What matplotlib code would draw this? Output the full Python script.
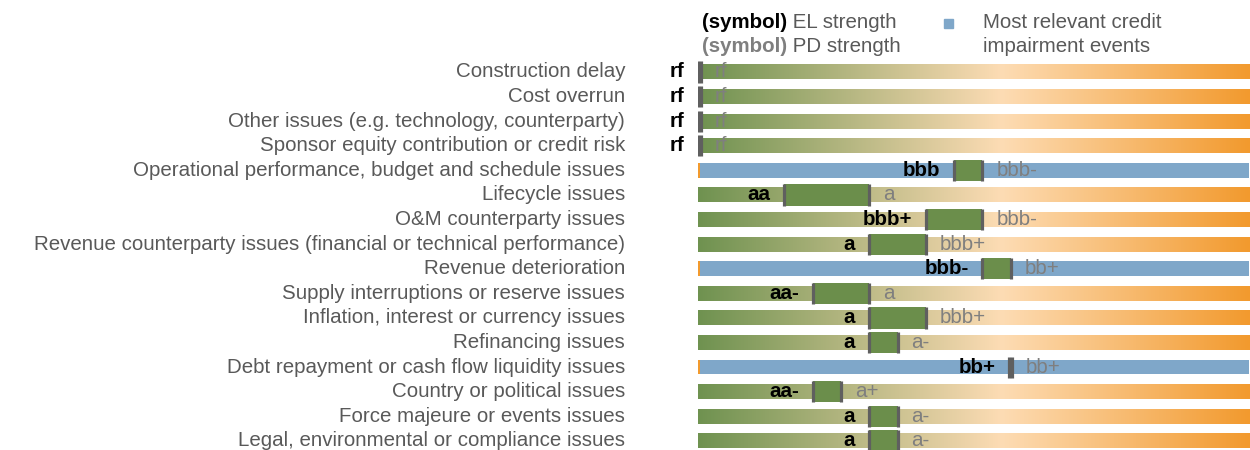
import matplotlib.pyplot as plt
import numpy as np
from matplotlib.colors import LinearSegmentedColormap

plt.rcParams['font.family'] = ['Liberation Sans', 'DejaVu Sans']

# rating scale, best (left) to worst (right)
scale = ['rf', 'aaa', 'aa+', 'aa', 'aa-', 'a+', 'a', 'a-', 'bbb+', 'bbb', 'bbb-',
         'bb+', 'bb', 'bb-', 'b+', 'b', 'b-', 'ccc+', 'ccc', 'ccc-']

categories = ['Construction delay',
              'Cost overrun',
              'Other issues (e.g. technology, counterparty)',
              'Sponsor equity contribution or credit risk',
              'Operational performance, budget and schedule issues',
              'Lifecycle issues',
              'O&M counterparty issues',
              'Revenue counterparty issues (financial or technical performance)',
              'Revenue deterioration',
              'Supply interruptions or reserve issues',
              'Inflation, interest or currency issues',
              'Refinancing issues',
              'Debt repayment or cash flow liquidity issues',
              'Country or political issues',
              'Force majeure or events issues',
              'Legal, environmental or compliance issues']
el_strength = ['rf', 'rf', 'rf', 'rf', 'bbb', 'aa', 'bbb+', 'a', 'bbb-', 'aa-',
               'a', 'a', 'bb+', 'aa-', 'a', 'a']
pd_strength = ['rf', 'rf', 'rf', 'rf', 'bbb-', 'a', 'bbb-', 'bbb+', 'bb+', 'a',
               'bbb+', 'a-', 'bb+', 'a+', 'a-', 'a-']
most_relevant = [0, 0, 0, 0, 1, 0, 0, 0, 1, 0, 0, 0, 1, 0, 0, 0]

green = '#6b8e4b'
blue = '#7fa7c9'
orange = '#f29a2e'
edge_gray = '#5f5f5f'
text_gray = '#595959'
label_gray = '#7f7f7f'

cmap = LinearSegmentedColormap.from_list(
    'grad', [(0, '#6f9250'), (0.55, '#fddcb4'), (1, '#f29a2e')])
grad = np.linspace(0, 1, 256).reshape(1, -1)

fig = plt.figure(figsize=(12.5, 4.5), dpi=100)
ax = fig.add_axes([698 / 1250, 0, 552 / 1250, (450 - 59.7) / 450])
xmin, xmax = -0.05, 19.45
ax.set_xlim(xmin, xmax)
ax.set_ylim(15.37, -0.5)
ax.axis('off')

bar_h = 0.6
box_h = 0.86
fs = 14.8

for i, cat in enumerate(categories):
    x1 = scale.index(el_strength[i])
    x2 = scale.index(pd_strength[i])
    if most_relevant[i]:
        ax.barh(i, xmax - 0.07, left=0.02, height=bar_h, color=blue, zorder=1)
        ax.barh(i, 0.07, left=xmin, height=bar_h, color=orange, zorder=1)
    else:
        ax.imshow(grad, cmap=cmap, aspect='auto', zorder=1,
                  extent=[xmin, xmax, i + bar_h / 2, i - bar_h / 2])
    # box between EL and PD
    if x2 > x1:
        ax.barh(i, x2 - x1, left=x1, height=box_h, color=green, zorder=2)
        ex = [x1, x2]
    else:
        ex = [x1 - 0.05, x1 + 0.05]
    for e in ex:
        ax.plot([e, e], [i - box_h / 2, i + box_h / 2], color=edge_gray,
                lw=2.3, solid_capstyle='butt', zorder=3)
    ax.annotate(el_strength[i], xy=(ex[0], i), xytext=(-10, 0),
                textcoords='offset points', ha='right', va='center',
                fontsize=fs, fontweight='bold', color='black', zorder=4,
                annotation_clip=False)
    ax.annotate(pd_strength[i], xy=(ex[1], i), xytext=(10, 0),
                textcoords='offset points', ha='left', va='center',
                fontsize=fs, color=label_gray, zorder=4)
    ax.text(-73 / 552, i, cat, transform=ax.get_yaxis_transform(),
            ha='right', va='center', fontsize=fs, color=text_gray)

# legend
t1 = fig.text(702 / 1250, 1 - 22 / 450, '(symbol)', fontsize=fs,
              fontweight='bold', color='black', va='center')
ax.annotate(' EL strength', xy=(1, 0.5), xycoords=t1, va='center',
            fontsize=fs, color=text_gray, annotation_clip=False)
t2 = fig.text(702 / 1250, 1 - 46 / 450, '(symbol)', fontsize=fs,
              fontweight='bold', color=label_gray, va='center')
ax.annotate(' PD strength', xy=(1, 0.5), xycoords=t2, va='center',
            fontsize=fs, color=text_gray, annotation_clip=False)
fig.patches.append(plt.Rectangle((944 / 1250, 1 - 28 / 450), 9 / 1250, 9 / 450,
                                 transform=fig.transFigure, color=blue))
fig.text(983 / 1250, 1 - 22 / 450, 'Most relevant credit',
         fontsize=fs, color=text_gray, va='center')
fig.text(983 / 1250, 1 - 46 / 450, 'impairment events',
         fontsize=fs, color=text_gray, va='center')

fig.savefig('out.png', dpi=100)
